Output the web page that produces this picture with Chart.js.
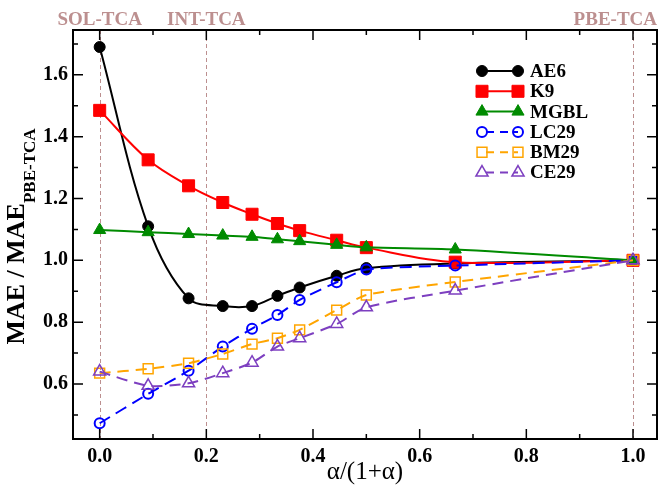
<!DOCTYPE html>
<html>
<head>
<meta charset="utf-8">
<script src="https://cdn.jsdelivr.net/npm/chart.js@4/dist/chart.umd.min.js"></script>
<style>
  html, body { margin: 0; padding: 0; background: #fff; }
</style>
</head>
<body>
<canvas id="chart" width="658" height="486"></canvas>
<script>
// alpha/(1+alpha) for alpha = 0, 0.1, 0.2, 0.3, 0.4, 0.5, 0.6, 0.8, 1, 2, inf
var alphaFrac = [0, 0.0909, 0.1667, 0.2308, 0.2857, 0.3333, 0.375, 0.4444, 0.5, 0.6667, 1.0];
var seriesNames = ['AE6', 'K9', 'MGBL', 'LC29', 'BM29', 'CE29'];
var ae6  = [1.690, 1.110, 0.877, 0.852, 0.852, 0.885, 0.912, 0.950, 0.975, 0.990, 1.0];
var k9   = [1.485, 1.325, 1.241, 1.187, 1.149, 1.119, 1.096, 1.065, 1.041, 0.994, 1.0];
var mgbl = [1.098, 1.091, 1.085, 1.080, 1.076, 1.068, 1.062, 1.050, 1.042, 1.035, 1.0];
var lc29 = [0.473, 0.568, 0.643, 0.721, 0.779, 0.823, 0.872, 0.929, 0.970, 0.983, 1.0];
var bm29 = [0.635, 0.649, 0.667, 0.697, 0.729, 0.748, 0.775, 0.839, 0.888, 0.930, 1.0];
var ce29 = [0.640, 0.594, 0.602, 0.635, 0.669, 0.721, 0.748, 0.794, 0.848, 0.902, 1.0];

var xTicks = [0, 0.2, 0.4, 0.6, 0.8, 1.0];
var yTicks = [0.6, 0.8, 1.0, 1.2, 1.4, 1.6];
var xMinor = [0.1, 0.3, 0.5, 0.7, 0.9];
var yMinor = [0.5, 0.7, 0.9, 1.1, 1.3, 1.5, 1.7];
var refLines = [0, 0.2, 1.0];
var refLabels = ['SOL-TCA', 'INT-TCA', 'PBE-TCA'];

var serif = "'Liberation Serif', 'Times New Roman', serif";
var rosy = '#bc8f8f';

function pts(ys) {
  return alphaFrac.map(function (x, i) { return { x: x, y: ys[i] }; });
}

var styles = [
  { color: '#000000', fill: '#000000', shape: 'circle',   r: 5.5, dash: [],      bw: 1,   tension: 0.35 },
  { color: '#ff0000', fill: '#ff0000', shape: 'rect',     r: 8.5, dash: [],      bw: 1,   tension: 0.35 },
  { color: '#008b00', fill: '#008b00', shape: 'triangle', r: 7,   dash: [],      bw: 1,   tension: 0.3 },
  { color: '#0000ff', fill: 'rgba(0,0,0,0)', shape: 'circle',   r: 5,   dash: [12, 7], bw: 2,   tension: 0.2 },
  { color: '#ffa500', fill: 'rgba(0,0,0,0)', shape: 'rect',     r: 7,   dash: [11, 7], bw: 1.5, tension: 0.2 },
  { color: '#7d3fc0', fill: 'rgba(0,0,0,0)', shape: 'triangle', r: 7,   dash: [11, 7], bw: 1.5, tension: 0.25 }
];
var allData = [ae6, k9, mgbl, lc29, bm29, ce29];

var datasets = allData.map(function (d, i) {
  var s = styles[i];
  return {
    label: seriesNames[i],
    data: pts(d),
    borderColor: s.color,
    backgroundColor: s.fill,
    borderWidth: 2,
    borderDash: s.dash,
    tension: s.tension,
    pointStyle: s.shape,
    pointRadius: s.r,
    pointBorderWidth: s.bw,
    pointBorderColor: s.color,
    pointBackgroundColor: s.fill,
    order: allData.length - i
  };
});

function drawMarker(ctx, shape, x, y, r, fill, stroke, bw) {
  ctx.save();
  ctx.beginPath();
  if (shape === 'circle') {
    ctx.arc(x, y, r, 0, Math.PI * 2);
  } else if (shape === 'rect') {
    var h = r * Math.SQRT1_2;
    ctx.rect(x - h, y - h, 2 * h, 2 * h);
  } else {
    ctx.moveTo(x, y - r);
    ctx.lineTo(x + r * Math.sin(2 * Math.PI / 3), y - r * Math.cos(2 * Math.PI / 3));
    ctx.lineTo(x + r * Math.sin(4 * Math.PI / 3), y - r * Math.cos(4 * Math.PI / 3));
    ctx.closePath();
  }
  ctx.fillStyle = fill;
  ctx.fill();
  ctx.lineWidth = bw;
  ctx.strokeStyle = stroke;
  ctx.setLineDash([]);
  ctx.stroke();
  ctx.restore();
}

var framePlugin = {
  id: 'frame',
  // stretch the plot box to the right edge of the canvas like the original
  afterLayout: function (chart) {
    var a = chart.chartArea, xs = chart.scales.x;
    var R = chart.width - 1;
    a.right = R;
    a.width = R - a.left;
    xs.right = R;
    xs.width = R - xs.left;
    xs.configure();
  },
  beforeDatasetsDraw: function (chart) {
    var ctx = chart.ctx, a = chart.chartArea, xs = chart.scales.x;
    ctx.save();
    ctx.strokeStyle = rosy;
    ctx.lineWidth = 1;
    ctx.setLineDash([4, 3]);
    refLines.forEach(function (v) {
      var px = Math.round(xs.getPixelForValue(v)) + 0.5;
      ctx.beginPath();
      ctx.moveTo(px, a.top);
      ctx.lineTo(px, a.bottom);
      ctx.stroke();
    });
    ctx.restore();
  },
  afterDraw: function (chart) {
    var ctx = chart.ctx, a = chart.chartArea, xs = chart.scales.x, ys = chart.scales.y;
    ctx.save();
    // inward ticks on all four sides
    ctx.strokeStyle = '#000';
    ctx.lineWidth = 1.5;
    function xt(v, len) {
      var px = xs.getPixelForValue(v);
      ctx.beginPath();
      ctx.moveTo(px, a.bottom); ctx.lineTo(px, a.bottom - len);
      ctx.moveTo(px, a.top); ctx.lineTo(px, a.top + len);
      ctx.stroke();
    }
    function yt(v, len) {
      var py = ys.getPixelForValue(v);
      ctx.beginPath();
      ctx.moveTo(a.left, py); ctx.lineTo(a.left + len, py);
      ctx.moveTo(a.right, py); ctx.lineTo(a.right - len, py);
      ctx.stroke();
    }
    xTicks.forEach(function (v) { xt(v, 10); });
    xMinor.forEach(function (v) { xt(v, 5); });
    yTicks.forEach(function (v) { yt(v, 10); });
    yMinor.forEach(function (v) { yt(v, 5); });

    // frame
    ctx.lineWidth = 2;
    ctx.strokeRect(a.left, a.top, a.right - a.left, a.bottom - a.top);

    // top reference labels
    ctx.fillStyle = rosy;
    ctx.font = 'bold 19px ' + serif;
    ctx.textBaseline = 'alphabetic';
    refLabels.forEach(function (t, i) {
      var px = xs.getPixelForValue(refLines[i]);
      var w = ctx.measureText(t).width;
      var x0 = px - w / 2;
      if (x0 + w > chart.width - 1) x0 = chart.width - 1 - w;
      ctx.textAlign = 'left';
      ctx.fillText(t, x0, 25);
    });

    // x title
    ctx.fillStyle = '#000';
    ctx.font = '25px ' + serif;
    ctx.textAlign = 'center';
    ctx.fillText('α/(1+α)', (a.left + a.right) / 2, 479);

    // y title with subscript
    ctx.save();
    ctx.translate(24, (a.top + a.bottom) / 2 + 2);
    ctx.rotate(-Math.PI / 2);
    ctx.textAlign = 'left';
    ctx.font = 'bold 26px ' + serif;
    var main = 'MAE / MAE';
    var w1 = ctx.measureText(main).width;
    ctx.font = 'bold 17px ' + serif;
    var sub = 'PBE-TCA';
    var w2 = ctx.measureText(sub).width;
    var start = -(w1 + w2) / 2;
    ctx.font = 'bold 26px ' + serif;
    ctx.fillText(main, start, 0);
    ctx.font = 'bold 17px ' + serif;
    ctx.fillText(sub, start + w1, 11);
    ctx.restore();

    // legend
    var lx0 = 482, lx1 = 518, ly0 = 71, dy = 20.3;
    chart.data.datasets.forEach(function (ds, i) {
      var s = styles[i];
      var y = ly0 + i * dy;
      ctx.save();
      ctx.strokeStyle = s.color;
      ctx.lineWidth = 2;
      ctx.setLineDash(s.dash.length ? [8, 6] : []);
      ctx.lineDashOffset = -4;
      ctx.beginPath();
      ctx.moveTo(lx0, y); ctx.lineTo(lx1, y);
      ctx.stroke();
      ctx.restore();
      drawMarker(ctx, s.shape, lx0, y, s.r, s.fill, s.color, s.bw);
      drawMarker(ctx, s.shape, lx1, y, s.r, s.fill, s.color, s.bw);
      ctx.fillStyle = '#000';
      ctx.font = 'bold 19px ' + serif;
      ctx.textAlign = 'left';
      ctx.textBaseline = 'middle';
      ctx.fillText(ds.label, 530, y + 1);
      ctx.textBaseline = 'alphabetic';
    });
    ctx.restore();
  }
};

var ctx = document.getElementById('chart').getContext('2d');
var myChart = new Chart(ctx, {
  type: 'line',
  data: { datasets: datasets },
  options: {
    responsive: false,
    animation: false,
    layout: { padding: { top: 30, right: 1, left: 0, bottom: 0 } },
    plugins: {
      legend: { display: false },
      tooltip: { enabled: false }
    },
    scales: {
      x: {
        type: 'linear',
        min: -0.05,
        max: 1.045,
        grid: { display: false, drawTicks: false },
        border: { display: false },
        afterBuildTicks: function (s) { s.ticks = xTicks.map(function (v) { return { value: v }; }); },
        afterFit: function (s) { s.height = 47; },
        ticks: {
          padding: 6,
          color: '#000',
          font: { family: serif, size: 20, weight: 'bold' },
          maxRotation: 0,
          callback: function (v) { return Number(v).toFixed(1); }
        }
      },
      y: {
        type: 'linear',
        min: 0.422,
        max: 1.745,
        grid: { display: false, drawTicks: false },
        border: { display: false },
        afterBuildTicks: function (s) { s.ticks = yTicks.map(function (v) { return { value: v }; }); },
        afterFit: function (s) { s.width = 73; },
        ticks: {
          padding: 5,
          color: '#000',
          font: { family: serif, size: 20, weight: 'bold' },
          callback: function (v) { return Number(v).toFixed(1); }
        }
      }
    }
  },
  plugins: [framePlugin]
});
</script>
</body>
</html>
